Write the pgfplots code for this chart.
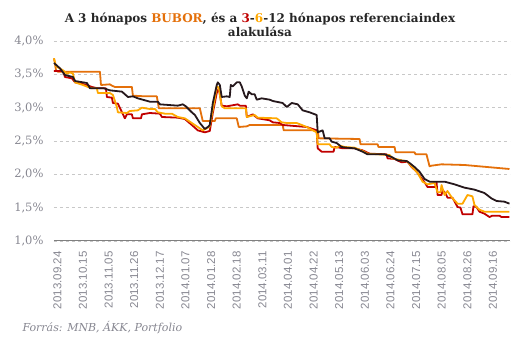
\documentclass[border=0pt]{standalone}
\usepackage{pgfplots}
\pgfplotsset{compat=1.18}
\usepackage{fontspec}
\setmainfont{DejaVu Serif}
\setsansfont{Liberation Sans}
\definecolor{cblack}{RGB}{38,24,28}
\definecolor{cred}{RGB}{192,0,0}
\definecolor{corange}{RGB}{228,112,10}
\definecolor{cyellow}{RGB}{255,168,0}
\definecolor{tickgray}{RGB}{135,135,145}
\definecolor{gridgray}{RGB}{200,200,200}
\definecolor{titlecol}{RGB}{38,38,38}
\definecolor{axisgray}{RGB}{128,128,128}

\begin{document}
\begin{tikzpicture}[x=1pt,y=1pt]
\path[use as bounding box] (0,0) rectangle (531,342);
\begin{axis}[
  at={(54pt,101pt)}, anchor=south west, scale only axis,
  width=456pt, height=200pt,
  xmin=0, xmax=267, ymin=1, ymax=4,
  axis x line*=bottom, axis y line*=left,
  axis line style={-},
  x axis line style={draw=axisgray, line width=1pt},
  y axis line style={draw=none},
  ytick={1,1.5,2,2.5,3,3.5,4},
  yticklabels={{1,0\%},{1,5\%},{2,0\%},{2,5\%},{3,0\%},{3,5\%},{4,0\%}},
  ymajorgrids, grid style={dashed, gridgray, line width=0.8pt},
  major tick length=0pt,
  xtick={2,17,32,47,62,77,92,107,122,137,152,167,182,197,212,227,242,257},
  xticklabels={2013.09.24,2013.10.15,2013.11.05,2013.11.26,2013.12.17,2014.01.07,2014.01.28,2014.02.18,2014.03.11,2014.04.01,2014.04.22,2014.05.13,2014.06.03,2014.06.24,2014.07.15,2014.08.05,2014.08.26,2014.09.16},
  x tick label style={rotate=90, anchor=east, font=\sffamily\fontsize{11.5}{11.5}\selectfont, text=tickgray, xshift=-7pt},
  y tick label style={font=\fontsize{11.5}{12}\selectfont, text=tickgray, xshift=-7pt},
  clip=false,
  every axis plot/.append style={line width=1.8pt, line join=round},
]
% BUBOR (orange)
\addplot[corange] coordinates {
(0,3.74)(1.2,3.56)(2.3,3.54)(26.9,3.54)(27.5,3.34)(32.7,3.35)(33.9,3.33)(35.7,3.31)(45.6,3.31)(46.2,3.18)(53.2,3.17)(60.2,3.17)(61.4,2.99)(85.4,2.99)(87.1,2.80)(94.2,2.80)(94.7,2.84)(107,2.84)(108.2,2.71)(112.9,2.72)(114.6,2.74)(133.9,2.74)(134.5,2.66)(154.4,2.66)(155,2.54)(178.9,2.53)(179.5,2.45)(189.5,2.45)(190,2.41)(199.4,2.41)(200,2.33)(211.1,2.33)(211.7,2.30)(218.1,2.30)(219.9,2.12)(221.1,2.13)(226.9,2.15)(240.4,2.14)(249.1,2.12)(257.9,2.10)(266.7,2.08)
};
% 3 months (red)
\addplot[cred] coordinates {
(0,3.55)(5.3,3.55)(6.4,3.46)(10.5,3.44)(12.3,3.38)(19.3,3.34)(22.2,3.31)(25.7,3.29)(30.4,3.29)(31,3.16)(33.9,3.15)(34.5,3.07)(37.4,3.06)(41.5,2.84)(42.7,2.90)(45.6,2.90)(46.2,2.84)(50.9,2.84)(51.5,2.90)(56.1,2.92)(62,2.91)(63.2,2.86)(72.5,2.85)(76.6,2.83)(80.7,2.74)(84.2,2.66)(88.3,2.63)(91.2,2.65)(93,2.92)(95.3,3.22)(96.5,3.29)(98.2,3.03)(101.2,3.02)(107.6,3.05)(108.8,3.03)(112.3,3.03)(112.9,2.86)(116.4,2.90)(119.3,2.84)(126.3,2.81)(128.1,2.78)(132.2,2.77)(133.9,2.74)(148,2.71)(153.8,2.66)(154.4,2.39)(156.7,2.34)(163.7,2.34)(164.3,2.41)(167.3,2.40)(169,2.39)(176,2.39)(180.7,2.36)(184.8,2.31)(194.7,2.30)(195.3,2.24)(199.4,2.23)(203.5,2.18)(207,2.19)(209.4,2.11)(212.3,2.04)(215.2,1.94)(217,1.88)(218.7,1.81)(223.4,1.81)(224,1.88)(224.6,1.69)(226.9,1.69)(227.5,1.76)(229.2,1.72)(230.4,1.65)(233.3,1.65)(236.3,1.51)(238,1.50)(239.2,1.40)(245,1.40)(245.6,1.52)(247.4,1.51)(249.1,1.44)(252,1.41)(255,1.36)(256.7,1.38)(260.8,1.38)(262,1.36)(266.7,1.36)
};
% 6 months (yellow)
\addplot[cyellow] coordinates {
(0,3.74)(1.2,3.62)(5.3,3.56)(7.6,3.51)(9.4,3.53)(11.1,3.51)(12.3,3.38)(17,3.34)(19.9,3.31)(22.2,3.29)(25.1,3.29)(25.7,3.22)(32.7,3.22)(34.5,3.19)(36.8,3.01)(37.4,2.93)(42.7,2.92)(44.4,2.95)(49.1,2.96)(51.5,3.00)(56.1,2.98)(59.1,2.98)(60.8,2.93)(64.9,2.91)(69,2.91)(72.5,2.86)(76.6,2.84)(80.7,2.77)(84.2,2.71)(87.1,2.66)(90.1,2.70)(91.2,2.72)(94.2,3.14)(95.3,3.32)(96.5,3.30)(98.2,3.02)(100,2.99)(112.3,2.99)(112.9,2.86)(117.5,2.89)(119.3,2.85)(130.4,2.84)(133.3,2.78)(136.3,2.77)(142.1,2.77)(148,2.71)(153.8,2.63)(154.4,2.45)(161.4,2.45)(162.6,2.41)(165.5,2.40)(167.3,2.43)(170.2,2.41)(176,2.40)(180.7,2.35)(183.6,2.31)(196.5,2.29)(198.2,2.24)(207,2.19)(209.4,2.12)(212.9,2.02)(215.8,1.89)(218.7,1.85)(222.8,1.87)(224.6,1.73)(226.3,1.73)(226.9,1.84)(228.7,1.69)(230.4,1.75)(232.7,1.66)(236.3,1.56)(239.2,1.56)(242.1,1.69)(245,1.67)(246.2,1.54)(249.1,1.47)(252,1.44)(266.7,1.44)
};
% 12 months (black)
\addplot[cblack] coordinates {
(0,3.67)(3.5,3.59)(6.4,3.49)(11.1,3.46)(12.3,3.40)(19.3,3.37)(21.1,3.29)(29.2,3.29)(32.7,3.26)(39.8,3.24)(43.3,3.16)(46.2,3.17)(49.1,3.14)(56.1,3.09)(60.8,3.09)(62,3.05)(72.5,3.03)(75.4,3.05)(77.2,3.02)(80.7,2.93)(82.5,2.89)(85.4,2.77)(88.3,2.68)(90.1,2.71)(91.2,2.74)(93,3.07)(95.3,3.34)(95.9,3.38)(97.1,3.34)(98.2,3.16)(101.2,3.17)(102.9,3.16)(103.5,3.34)(104.7,3.32)(107,3.38)(108.8,3.38)(109.9,3.32)(111.7,3.18)(112.9,3.14)(114,3.24)(115.8,3.20)(117.5,3.20)(118.7,3.12)(121.6,3.14)(126.3,3.12)(128.1,3.10)(133.9,3.07)(136.3,3.01)(139.2,3.07)(142.7,3.05)(145.6,2.96)(149.7,2.93)(153.8,2.89)(154.4,2.63)(157.3,2.66)(158.5,2.54)(161.4,2.54)(162.6,2.49)(165.5,2.47)(168.4,2.41)(171.3,2.40)(176,2.39)(180.7,2.34)(183.6,2.30)(193.6,2.30)(197.7,2.26)(201.2,2.21)(206.4,2.20)(208.2,2.17)(211.1,2.11)(214,2.04)(217,1.93)(219.9,1.89)(228.7,1.89)(234.5,1.85)(240.4,1.80)(246.2,1.77)(252,1.72)(256.1,1.64)(259.1,1.60)(263.7,1.59)(266.7,1.56)
};
\end{axis}
\node[align=center, text=titlecol, font=\bfseries\fontsize{12}{14}\selectfont] at (260,317)
  {A 3 hónapos {\color{corange}BUBOR}, és a {\color{cred}3}-{\color{cyellow}6}-12 hónapos referenciaindex\\alakulása};
\node[anchor=west, text=tickgray, font=\itshape\fontsize{11}{11}\selectfont] at (19,14) {Forrás: MNB, ÁKK, Portfolio};
\end{tikzpicture}
\end{document}
